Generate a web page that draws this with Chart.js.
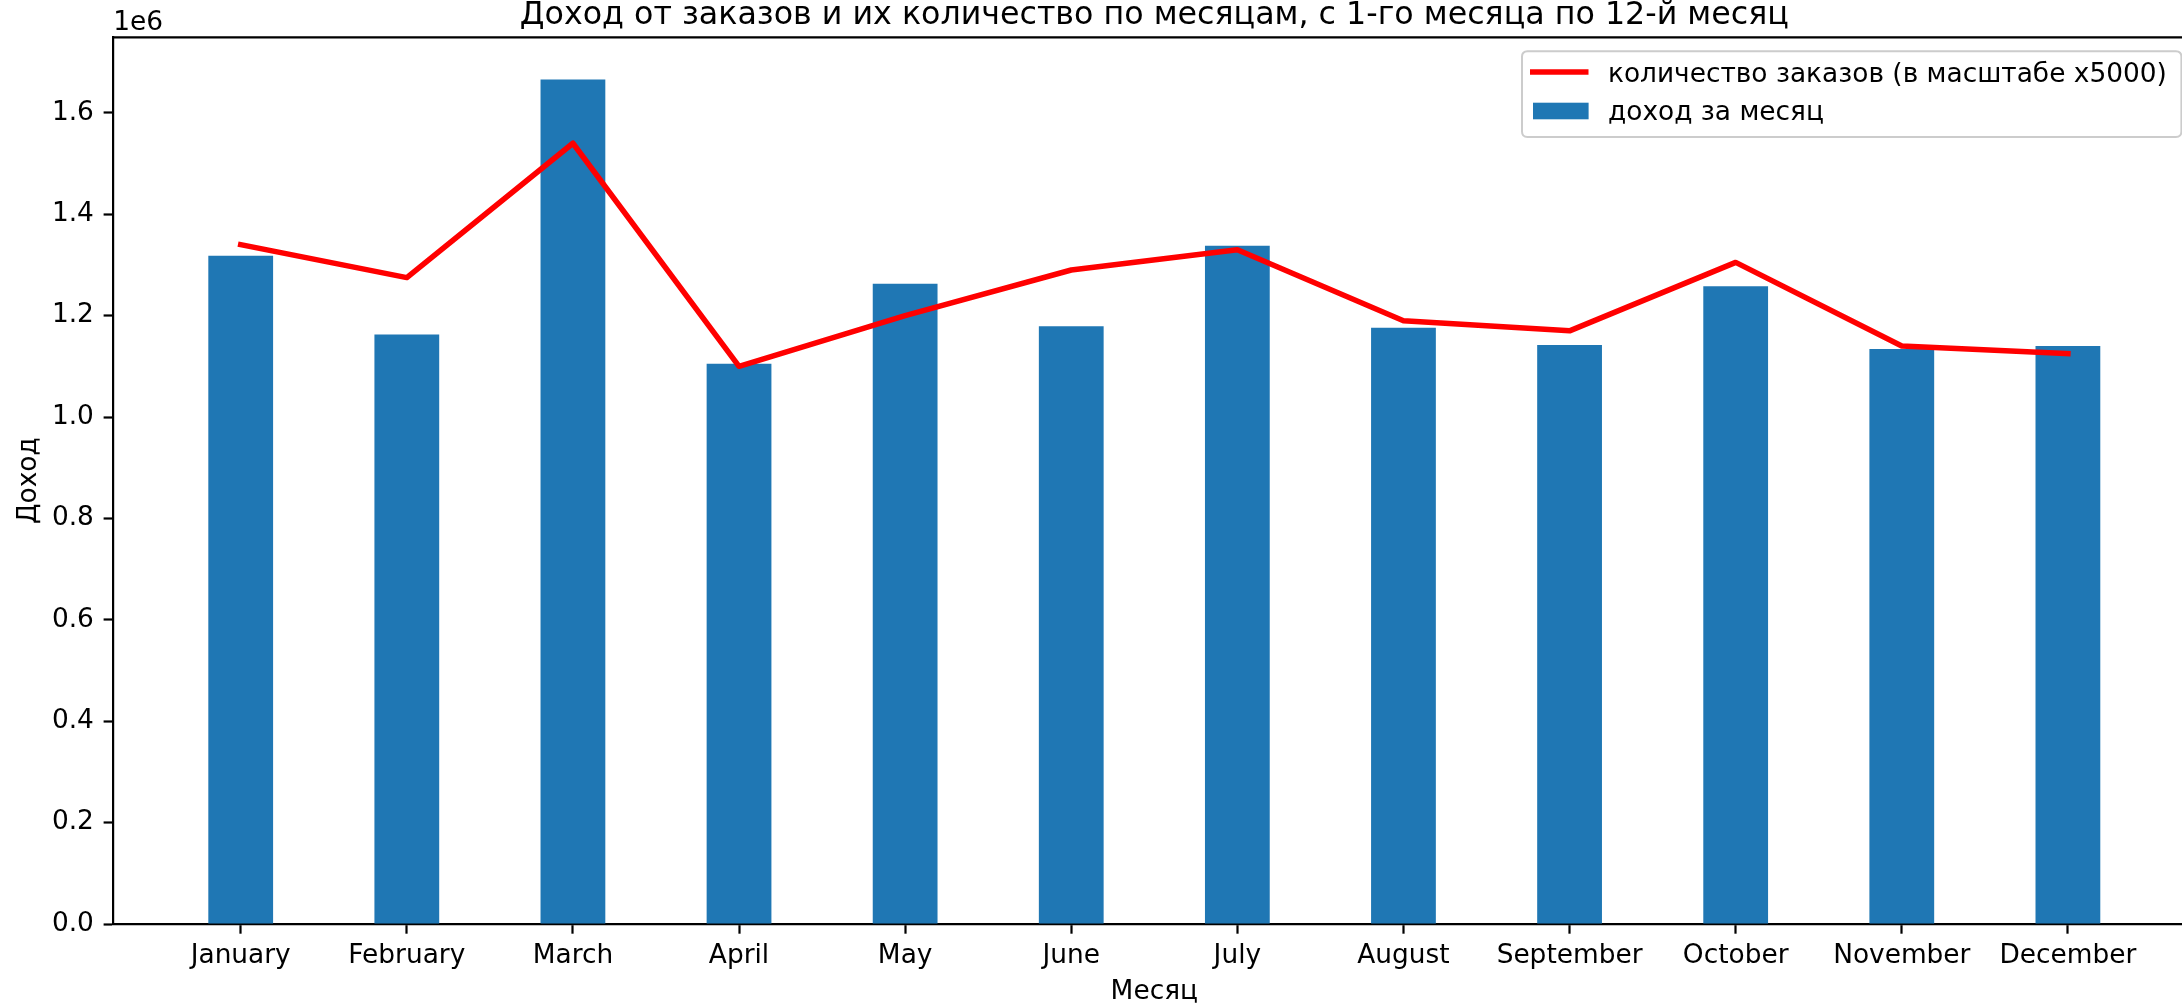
<!DOCTYPE html>
<html>
<head>
<meta charset="utf-8">
<script src="https://cdn.jsdelivr.net/npm/chart.js@4.4.0/dist/chart.umd.min.js"></script>
<style>
  html, body { margin: 0; padding: 0; background: #fff; overflow: hidden; }
  canvas { display: block; }
</style>
</head>
<body>
<canvas id="myChart" width="2200" height="1005"></canvas>
<script>
// Данные графика
const months = ['January', 'February', 'March', 'April', 'May', 'June',
    'July', 'August', 'September', 'October', 'November', 'December'];

// доход за месяц
const revenue = [1318000, 1163000, 1666000, 1105000, 1263000, 1179000,
    1338000, 1176000, 1142000, 1258000, 1134000, 1140000];

// количество заказов (в масштабе x5000)
const orders = [268, 255, 308, 220, 240, 258, 266, 238, 234, 261, 228, 225];
const orderScale = 5000;

// подписи оси Y (в единицах 1e6)
const yTicks = [0.0, 0.2, 0.4, 0.6, 0.8, 1.0, 1.2, 1.4, 1.6];

const FONT = 'DejaVu Sans';
const FS = 26.4;

const ctx = document.getElementById('myChart').getContext('2d');

// Заголовок, "1e6", верхняя рамка и легенда
const decorations = {
    id: 'decorations',
    afterDraw(chart) {
        const c = chart.ctx;
        const a = chart.chartArea;
        c.save();

        // верхняя рамка
        c.strokeStyle = '#000';
        c.lineWidth = 2.2;
        c.beginPath();
        c.moveTo(a.left, a.top);
        c.lineTo(a.right, a.top);
        c.lineTo(a.right, a.bottom);
        c.stroke();

        // заголовок
        c.fillStyle = '#000';
        c.textBaseline = 'alphabetic';
        c.textAlign = 'center';
        c.font = '31.7px "' + FONT + '"';
        c.fillText('Доход от заказов и их количество по месяцам, с 1-го месяца по 12-й месяц',
            (a.left + a.right) / 2, 24);

        // множитель оси Y
        c.textAlign = 'left';
        c.font = FS + 'px "' + FONT + '"';
        c.fillText('1e6', a.left, 30);

        // легенда
        const right = a.right - 13.9;
        const left = 1522;
        const top = a.top + 13.9;
        const bottom = 137;
        const r = 5.5;
        c.beginPath();
        c.moveTo(left + r, top);
        c.lineTo(right - r, top);
        c.quadraticCurveTo(right, top, right, top + r);
        c.lineTo(right, bottom - r);
        c.quadraticCurveTo(right, bottom, right - r, bottom);
        c.lineTo(left + r, bottom);
        c.quadraticCurveTo(left, bottom, left, bottom - r);
        c.lineTo(left, top + r);
        c.quadraticCurveTo(left, top, left + r, top);
        c.closePath();
        c.fillStyle = 'rgba(255,255,255,0.8)';
        c.fill();
        c.strokeStyle = '#cccccc';
        c.lineWidth = 2;
        c.stroke();

        // строка 1: линия
        c.strokeStyle = '#ff0000';
        c.lineWidth = 5.5;
        c.lineCap = 'butt';
        c.beginPath();
        c.moveTo(left + 8, 72);
        c.lineTo(left + 66.5, 72);
        c.stroke();
        // строка 2: прямоугольник
        c.fillStyle = '#1f77b4';
        c.fillRect(left + 11, 102.7, 55.6, 16.6);

        c.fillStyle = '#000';
        c.font = FS + 'px "' + FONT + '"';
        c.fillText('количество заказов (в масштабе x5000)', left + 86, 82.3);
        c.fillText('доход за месяц', left + 86, 120);

        c.restore();
    }
};

const chart = new Chart(ctx, {
    type: 'bar',
    data: {
        datasets: [{
            type: 'line',
            label: 'количество заказов (в масштабе x5000)',
            data: orders.map((v, i) => ({ x: i, y: v * orderScale })),
            borderColor: '#ff0000',
            borderWidth: 5.5,
            pointRadius: 0,
            tension: 0,
            borderJoinStyle: 'round',
            borderCapStyle: 'square',
            fill: false
        }, {
            type: 'bar',
            label: 'доход за месяц',
            data: revenue.map((v, i) => ({ x: i, y: v })),
            backgroundColor: '#1f77b4',
            borderWidth: 0,
            barPercentage: 0.39,
            categoryPercentage: 1.0
        }]
    },
    options: {
        responsive: false,
        animation: false,
        devicePixelRatio: 1,
        layout: {
            padding: { left: 0, right: 4.7, top: 37.3, bottom: 0 }
        },
        scales: {
            x: {
                type: 'linear',
                min: -0.767,
                max: 11.767,
                offset: false,
                afterFit: function(scale) { scale.height = 81; },
                afterBuildTicks: function(scale) {
                    scale.ticks = months.map((m, i) => ({ value: i }));
                },
                grid: {
                    offset: false,
                    drawOnChartArea: false,
                    drawTicks: true,
                    tickLength: 9.7,
                    tickWidth: 2.2,
                    tickColor: '#000',
                    color: '#000'
                },
                border: { display: true, color: '#000', width: 2.2 },
                ticks: {
                    autoSkip: false,
                    maxRotation: 0,
                    padding: 6.5,
                    color: '#000',
                    font: { family: FONT, size: FS },
                    callback: function(value) { return months[value]; }
                },
                title: {
                    display: true,
                    text: 'Месяц',
                    color: '#000',
                    font: { family: FONT, size: FS },
                    padding: { top: 0, bottom: -3 }
                }
            },
            y: {
                min: 0,
                max: 1749000,
                afterFit: function(scale) { scale.width = 113.3; },
                afterBuildTicks: function(scale) {
                    scale.ticks = yTicks.map(v => ({ value: v * 1e6 }));
                },
                grid: {
                    drawOnChartArea: false,
                    drawTicks: true,
                    tickLength: 9.7,
                    tickWidth: 2.2,
                    tickColor: '#000',
                    color: '#000'
                },
                border: { display: true, color: '#000', width: 2.2 },
                ticks: {
                    padding: 9.7,
                    color: '#000',
                    font: { family: FONT, size: FS },
                    callback: function(value) { return (value / 1e6).toFixed(1); }
                },
                title: {
                    display: true,
                    text: 'Доход',
                    color: '#000',
                    font: { family: FONT, size: FS },
                    padding: { top: 13, bottom: 0 }
                }
            }
        },
        plugins: {
            legend: { display: false },
            tooltip: { enabled: false },
            title: { display: false }
        }
    },
    plugins: [decorations]
});
</script>
</body>
</html>
